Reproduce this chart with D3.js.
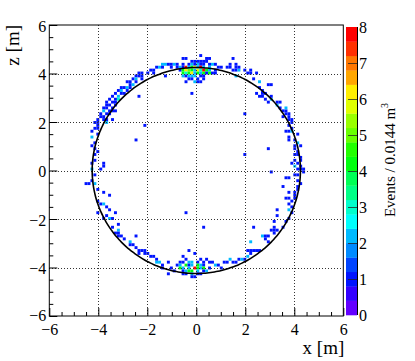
<!DOCTYPE html>
<html><head><meta charset="utf-8">
<script src="https://cdn.jsdelivr.net/npm/d3@7"></script>
<style>body{margin:0;background:#fff}svg{display:block}</style>
</head><body>
<script>
// ---- axis / binning definition ----
const xDomain = [-6, 6];
const zDomain = [-6, 6];
const binWidth = 0.12;            // 100 bins over 12 m
const majorTicks = [-6, -4, -2, 0, 2, 4, 6];
const gridTicks = [-4, -2, 0, 2, 4];
const colorMax = 8;
const colorTicks = [0, 1, 2, 3, 4, 5, 6, 7, 8];
const nContours = 20;
const circleRadius = 4.25;        // metres
const xTitle = "x [m]";
const zTitle = "z [m]";
const colorTitle = "Events / 0.0144 m";

// ---- cells: [x bin index, z bin index, events] ----
const topCells = [
 [51,89,1],
 [45,88,1],[46,88,1],[53,88,1],[54,88,1],
 [48,87,1],[49,87,1],[50,87,1],[51,87,1],[52,87,1],[53,87,1],
 [45,86,1],[47,86,1],[48,86,2],[49,86,1],[50,86,2],[51,86,1],[52,86,1],[54,86,1],[55,86,2],[56,86,1],
 [44,85,2],[45,85,1],[46,85,8],[47,85,2],[48,85,4],[49,85,6],[50,85,2],[51,85,8],[52,85,2],[54,85,2],
 [44,84,1],[45,84,4],[46,84,6],[47,84,5],[48,84,4],[49,84,2],[50,84,6],[51,84,3],[52,84,8],[53,84,4],[54,84,2],[56,84,1],
 [45,83,4],[46,83,3],[47,83,4],[48,83,6],[49,83,2],[50,83,4],[51,83,2],[52,83,4],[53,83,1],[54,83,4],[55,83,1],[56,83,1],
 [45,82,2],[46,82,1],[47,82,2],[48,82,2],[49,82,2],[51,82,1],[52,82,1],
 [47,81,1],[48,81,1],[50,81,1],[52,81,1],
 [46,80,1],[49,80,2],[50,80,1],[51,80,1]
];
const upperLeftCells = [
 [38,86,2],[39,86,2],[40,86,1],[41,86,1],[42,86,2],[43,86,1],
 [36,85,1],[37,85,2],[38,85,1],[41,85,1],[43,85,1],
 [34,84,1],[35,84,1],
 [30,83,1],[31,83,1],[33,83,1],[35,83,1],
 [29,82,1],[30,82,1],[31,82,1],[39,82,1],
 [28,81,1],[29,81,2],[31,81,1],
 [26,80,1],[27,80,1],[29,80,1],
 [27,79,1],[28,79,2],
 [24,78,1],[25,78,1],[26,78,2],[27,78,1],
 [23,77,1],[24,77,2],[26,77,1],
 [22,76,1],[24,76,1],[25,76,1],
 [21,75,1],[23,75,2],
 [20,74,1],[22,74,1],[23,74,3],
 [19,73,1],[21,73,1],[22,73,1],
 [19,72,1],[20,72,1],[22,72,1],
 [18,71,1],[19,71,1],[21,71,1],
 [18,70,2],[20,70,1],[21,70,1],[22,70,1],
 [17,69,1],[19,69,1],[20,69,1],
 [17,68,1],[18,68,1],
 [16,67,1],[18,67,1],[19,67,1],[21,67,1],
 [15,66,1],[16,66,1],[19,66,2],
 [16,65,1]
];
const leftCells = [
 [15,64,1],[16,64,1],[14,63,1],[16,62,1],[14,61,2],[15,59,1],[14,58,1],[15,57,1],[16,56,1],[15,55,1],
 [15,53,1],[14,52,1],[18,52,1],[18,51,1],[14,50,2],[17,50,1],[15,48,1],[14,46,1],[12,45,1],[13,45,1],
 [15,45,2],[16,43,1],[18,42,1],[20,41,1],[16,39,1]
];
const lowerLeftCells = [
 [17,38,1],[18,38,2],[19,37,1],[20,36,1],[16,35,1],[22,35,1],[19,34,1],[18,33,1],[20,33,2],[21,33,1],
 [23,31,1],[21,30,1],[23,29,2],[22,28,1],[23,28,1],[23,27,1],[24,27,1],[25,26,1],[27,25,2],[27,24,1],
 [28,24,1],[29,23,1],[30,22,1],[31,22,1],[32,22,1],[30,21,1],[32,21,1],[33,21,1],[34,20,1],[35,20,1],
 [36,19,1],[36,18,2],[37,18,2],[40,18,1],[38,17,1],[38,16,1],[41,16,1],[42,15,1],[40,14,1]
];
const bottomCells = [
 [47,22,1],[49,21,1],[45,20,1],[46,19,1],[51,19,1],[53,19,1],
 [44,18,1],[45,18,1],[47,18,2],[48,18,2],[50,18,1],[52,18,1],[54,18,1],[55,18,1],
 [43,17,1],[44,17,2],[46,17,4],[47,17,1],[48,17,2],[50,17,4],[51,17,2],[52,17,1],[56,17,2],[57,17,1],
 [44,16,4],[45,16,2],[47,16,2],[49,16,8],[50,16,4],[51,16,2],[52,16,4],[54,16,1],[58,16,1],
 [45,15,1],[46,15,2],[47,15,4],[48,15,4],[50,15,2],[52,15,1],[53,15,2],
 [45,14,1],[46,14,1],[48,14,2],[50,14,1],[51,14,1],
 [48,13,1],[49,13,1]
];
const lowerRightCells = [
 [59,18,1],[60,18,1],[62,18,1],[63,18,1],[61,19,2],[64,19,1],[65,19,2],[66,19,1],[67,20,2],[68,21,1],
 [67,22,1],[68,22,1],[69,22,1],[70,22,1],[71,22,1],[68,25,2],[74,25,1],[73,26,1],[72,27,2],[73,27,1],
 [74,27,1],[76,28,1],[75,29,1],[76,29,1],[77,29,1],[76,30,1],[79,30,1],[76,32,1],[80,32,1],[81,33,1],
 [77,34,1],[82,35,1],[77,36,1],[81,36,2],[82,37,1],[81,38,1]
];
const rightCells = [
 [82,39,1],[80,40,1],[81,40,1],[83,40,1],[83,41,1],[81,42,1],[83,42,1],[84,43,1],[79,44,1],[84,44,1],
 [85,45,1],[84,46,1],[80,47,1],[81,47,1],[83,48,1],[84,48,1],[86,49,1],[84,50,1],[85,50,1],[86,50,1],
 [83,51,2],[85,51,1],[82,52,1],[84,52,1],[83,53,1],[85,53,1],[85,54,1],[83,55,1],[84,55,1],[84,56,1],
 [83,57,1],[83,58,1],[85,58,1],[84,59,2],[81,60,1],[83,60,1],[81,61,1],[84,62,1],[80,63,1],[81,63,1],
 [82,63,2],[82,64,1],[81,65,1],[82,66,1]
];
const upperRightCells = [
 [81,67,1],[82,67,1],[79,68,1],[81,68,1],[80,69,1],[81,69,1],[79,70,1],[80,70,1],[78,71,1],[80,71,2],
 [77,72,2],[74,73,1],[77,73,1],[78,73,1],[73,74,1],[75,74,2],[71,75,1],[72,75,1],[75,75,1],[70,76,1],
 [72,76,1],[73,76,1],[72,77,1],[71,78,1],[74,79,1],[75,79,1],[71,80,2],[69,81,1],[63,82,2],[67,83,1],
 [68,83,1],[70,83,1],[62,84,1],[63,84,1],[64,84,2],[66,84,1],[68,84,1],[57,85,1],[58,85,1],[60,85,1],
 [61,85,1],[63,85,1],[64,85,1],[61,86,1],[63,86,1],[62,88,1]
];
const strayCells = [
 [48,76,1],[30,75,1],[32,65,1],[29,60,1],[66,69,1],[74,57,1],[66,55,1],[75,49,1],[46,35,1],[29,27,1],[52,30,1],[69,30,1]
];

// ---- layout ----
const W = 415, H = 361;
const frame = {left: 49.3, right: 343.3, top: 25, bottom: 316};
const bar = {left: 346, right: 357, top: 27, bottom: 315};
const FONT = "'Liberation Serif','Times New Roman',serif";

const x = d3.scaleLinear().domain(xDomain).range([frame.left, frame.right]);
const z = d3.scaleLinear().domain(zDomain).range([frame.bottom, frame.top]);
const c = d3.scaleLinear().domain([0, colorMax]).range([bar.bottom, bar.top]);

// ROOT "pretty palette" (50 colours, violet -> red) with 20 contours
function paletteColor(k) {
  const hue = 280 - (k + 1) * (280 / 50);
  return d3.hsl(hue, 1, 0.5).toString();
}
function bandColor(band) {
  const k = Math.floor((band + 0.99) * 50 / nContours);
  return paletteColor(Math.min(49, k));
}
function valueColor(v) {
  let band = Math.floor(v / (colorMax / nContours));
  band = Math.max(0, Math.min(nContours - 1, band));
  return bandColor(band);
}

const svg = d3.select("body").append("svg").attr("width", W).attr("height", H);
svg.append("rect").attr("width", W).attr("height", H).attr("fill", "#fff");

const cells = [].concat(topCells, upperLeftCells, leftCells, lowerLeftCells,
  bottomCells, lowerRightCells, rightCells, upperRightCells, strayCells);

// cells
svg.append("g").selectAll("rect").data(cells).join("rect")
  .attr("x", d => x(xDomain[0] + d[0] * binWidth))
  .attr("y", d => z(zDomain[0] + (d[1] + 1) * binWidth))
  .attr("width", d => x(xDomain[0] + (d[0] + 1) * binWidth) - x(xDomain[0] + d[0] * binWidth))
  .attr("height", d => z(zDomain[0] + d[1] * binWidth) - z(zDomain[0] + (d[1] + 1) * binWidth))
  .attr("fill", d => valueColor(d[2]));

// grid
const grid = svg.append("g").attr("stroke", "#333").attr("stroke-width", 1)
  .attr("stroke-dasharray", "1 2").attr("shape-rendering", "crispEdges");
grid.selectAll(".gx").data(gridTicks).join("line")
  .attr("x1", d => Math.round(x(d)) + 0.5).attr("x2", d => Math.round(x(d)) + 0.5)
  .attr("y1", frame.top).attr("y2", frame.bottom);
grid.selectAll(".gz").data(gridTicks).join("line")
  .attr("y1", d => Math.round(z(d)) + 0.5).attr("y2", d => Math.round(z(d)) + 0.5)
  .attr("x1", frame.left).attr("x2", frame.right);

// circle
const angles = d3.range(0, 361, 2);
svg.append("path")
  .datum(angles)
  .attr("d", d3.line()
     .x(a => x(circleRadius * Math.cos(a * Math.PI / 180)))
     .y(a => z(circleRadius * Math.sin(a * Math.PI / 180)))
     .curve(d3.curveCardinalClosed))
  .attr("fill", "none").attr("stroke", "#000").attr("stroke-width", 1.6);

// frame
svg.append("rect")
  .attr("x", frame.left).attr("y", frame.top)
  .attr("width", frame.right - frame.left).attr("height", frame.bottom - frame.top)
  .attr("fill", "none").attr("stroke", "#000").attr("stroke-width", 1);

// axes (ticks inside, ROOT style)
const minorVals = d3.range(-6, 6.01, 0.5).filter(v => Math.abs(v % 2) > 1e-6);
const xAxis = d3.axisBottom(x).tickValues(majorTicks).tickSize(-8).tickPadding(13)
  .tickFormat(d3.format("d"));
const xMinor = d3.axisBottom(x).tickValues(minorVals).tickSize(-4).tickFormat("");
const zAxis = d3.axisLeft(z).tickValues(majorTicks).tickSize(-8).tickPadding(3)
  .tickFormat(d3.format("d"));
const zMinor = d3.axisLeft(z).tickValues(minorVals).tickSize(-4).tickFormat("");

function styleAxis(g) {
  g.select(".domain").remove();
  g.selectAll("line").attr("stroke", "#000");
  g.selectAll("text").attr("font-family", FONT).attr("font-size", 16).attr("fill", "#000");
}
svg.append("g").attr("transform", `translate(0,${frame.bottom})`).call(xAxis).call(styleAxis)
  .selectAll("text").attr("dy", "0.35em");
svg.append("g").attr("transform", `translate(0,${frame.bottom})`).call(xMinor).call(styleAxis);
svg.append("g").attr("transform", `translate(${frame.left},0)`).call(zAxis).call(styleAxis)
  .selectAll("text").attr("dy", d => d === -6 ? "0.25em" : "0.4em");
svg.append("g").attr("transform", `translate(${frame.left},0)`).call(zMinor).call(styleAxis);

// axis titles
svg.append("text").attr("x", frame.right + 1).attr("y", 354)
  .attr("text-anchor", "end").attr("font-family", FONT).attr("font-size", 19)
  .text(xTitle);
svg.append("text").attr("transform", `translate(19,${frame.top}) rotate(-90)`)
  .attr("text-anchor", "end").attr("font-family", FONT).attr("font-size", 19)
  .text(zTitle);

// colour bar
const bands = d3.range(nContours);
const step = colorMax / nContours;
svg.append("g").selectAll("rect").data(bands).join("rect")
  .attr("x", bar.left).attr("width", bar.right - bar.left)
  .attr("y", b => c((b + 1) * step)).attr("height", b => c(b * step) - c((b + 1) * step) + 0.3)
  .attr("fill", b => bandColor(b));
svg.append("line").attr("x1", bar.right + 0.5).attr("x2", bar.right + 0.5)
  .attr("y1", bar.top).attr("y2", bar.bottom).attr("stroke", "#000");
svg.append("g").selectAll("line").data(colorTicks.slice(1, -1)).join("line")
  .attr("x1", bar.right - 9).attr("x2", bar.right)
  .attr("y1", v => Math.round(c(v)) + 0.5).attr("y2", v => Math.round(c(v)) + 0.5)
  .attr("stroke", "#222").attr("stroke-opacity", 0.75);
svg.append("g").selectAll("text").data(colorTicks).join("text")
  .attr("x", bar.right + 2).attr("y", v => c(v)).attr("dy", "0.38em")
  .attr("font-family", FONT).attr("font-size", 16).text(d => d);

const ct = svg.append("text").attr("transform", `translate(395,160) rotate(-90)`)
  .attr("text-anchor", "middle").attr("font-family", FONT).attr("font-size", 15);
ct.append("tspan").text(colorTitle);
ct.append("tspan").attr("dy", -7).attr("font-size", 10).text("3");
</script>
</body></html>
